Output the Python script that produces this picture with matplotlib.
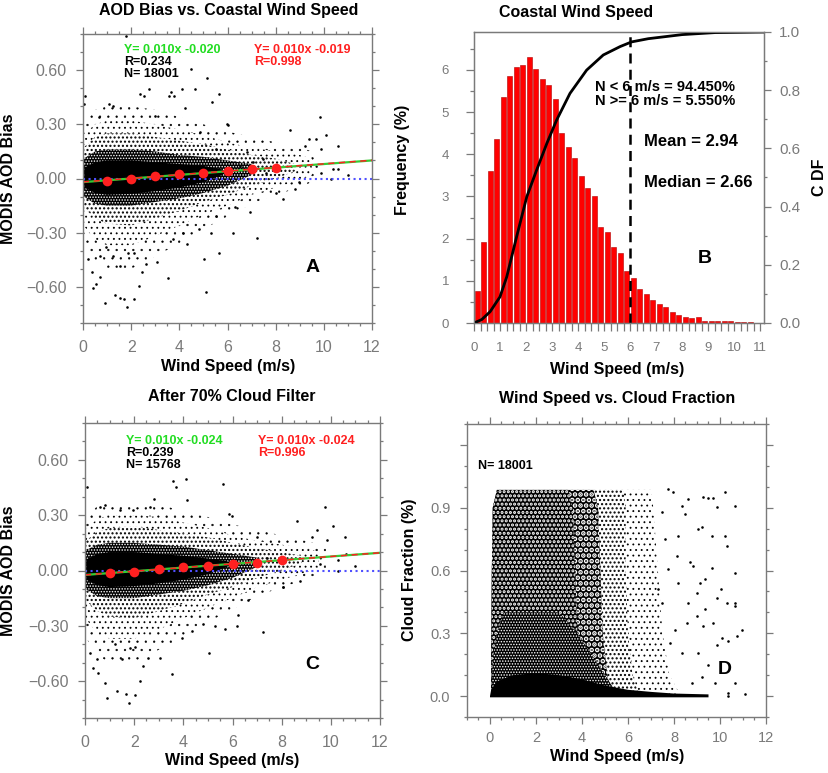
import matplotlib
matplotlib.use("Agg")
import matplotlib.pyplot as plt
from matplotlib.ticker import MultipleLocator

plt.rcParams['font.family'] = ['Liberation Sans', 'DejaVu Sans']

W, H = 829, 773

# ---------------- panel A: AOD bias vs wind speed ----------------
a_bin_x = [1, 2, 3, 4, 5, 6, 7, 8]
a_bin_y = [-0.015, -0.004, 0.013, 0.026, 0.030, 0.040, 0.050, 0.059]
fit_x = [0, 12]
a_fit_green = [-0.020, 0.100]
a_fit_red = [-0.019, 0.101]

# density contours of the point cloud (outer to inner)
a_faint_x = [0.02, 0.5, 1, 2, 3, 4, 5, 6, 7, 8, 9, 9.8]
a_faint_hi = [0.30, 0.38, 0.40, 0.40, 0.38, 0.34, 0.30, 0.26, 0.23, 0.20, 0.17, 0.14]
a_faint_lo = [-0.36, -0.46, -0.50, -0.50, -0.43, -0.36, -0.28, -0.21, -0.14, -0.09, -0.05, 0.0]
a_thin_x = [0.02, 0.5, 1, 2, 3, 4, 5, 6, 7, 8, 9, 9.5]
a_thin_hi = [0.24, 0.30, 0.32, 0.32, 0.30, 0.27, 0.24, 0.20, 0.17, 0.15, 0.13, 0.11]
a_thin_lo = [-0.26, -0.34, -0.37, -0.37, -0.32, -0.26, -0.20, -0.15, -0.09, -0.05, -0.01, 0.02]
a_med_x = [0.02, 0.5, 1, 2, 3, 4, 5, 6, 7, 8, 8.8]
a_med_hi = [0.17, 0.23, 0.25, 0.25, 0.23, 0.21, 0.19, 0.16, 0.13, 0.11, 0.08]
a_med_lo = [-0.16, -0.22, -0.25, -0.26, -0.22, -0.18, -0.13, -0.09, -0.04, 0.0, 0.04]
a_dark_x = [0.03, 0.5, 1, 2, 3, 4, 5, 6, 7]
a_dark_hi = [0.11, 0.15, 0.16, 0.16, 0.15, 0.13, 0.12, 0.10, 0.08]
a_dark_lo = [-0.10, -0.14, -0.15, -0.15, -0.13, -0.11, -0.08, -0.04, 0.02]
a_solid_x = [0.05, 0.5, 1, 2, 3, 4, 5, 5.8]
a_solid_hi = [0.06, 0.09, 0.10, 0.10, 0.09, 0.08, 0.07, 0.05]
a_solid_lo = [-0.05, -0.08, -0.09, -0.085, -0.07, -0.05, -0.02, 0.02]

# isolated points
a_pts_x = [0.1, 0.04, 1.09, 1.26, 0.65, 1.77, 2.36, 2.74, 2.52, 3.58, 3.76, 3.65, 4.13,
           4.67, 4.49, 5.16, 5.36, 5.64, 4.22, 2.99, 9.83, 8.61, 10.1, 10.6, 9.4, 9.66,
           9.2, 9.9, 10.4, 11.0, 10.3, 10.6, 9.9, 8.8, 8.97, 7.6, 7.48, 7.06, 6.5, 6.8,
           5.96, 6.03, 5.54, 4.85,
           0.22, 0.36, 0.53, 0.7, 0.43, 0.9, 1.33, 1.53, 1.7, 1.84, 2.12, 2.32, 2.46,
           1.53, 1.88, 0.7, 0.95, 1.26, 2.1, 2.61, 3.06, 3.53, 3.72, 4.33, 4.16, 4.81,
           5.03, 5.1, 5.64, 5.54, 5.3, 6.24, 6.33, 7.24, 6.93, 8.03, 8.3]
a_pts_y = [0.458, 0.41, 0.415, 0.40, 0.343, 0.79, 0.467, 0.495, 0.456, 0.458, 0.454,
           0.48, 0.495, 0.495, 0.605, 0.557, 0.425, 0.47, 0.388, 0.347, 0.342, 0.268,
           0.24, 0.181, 0.218, 0.218, 0.181, 0.162, 0.052, 0.018, -0.004, 0.055, 0.033,
           -0.059, -0.018, 0.033, 0.107, 0.089, 0.07, 0.144, 0.30, 0.295, 0.162, 0.255,
           -0.447, -0.52, -0.585, -0.548, -0.604, -0.687, -0.646, -0.659, -0.668, -0.709,
           -0.668, -0.594, -0.52, -0.484, -0.41, -0.428, -0.382, -0.428, -0.41, -0.474,
           -0.465, -0.55, -0.336, -0.36, -0.30, -0.28, -0.447, -0.631, -0.415, -0.207,
           -0.30, -0.30, -0.16, -0.33, -0.188, -0.078, -0.114]

# ---------------- panel B: wind speed histogram ----------------
b_bin_centers = [0.125 + 0.25 * i for i in range(44)]
b_freq = [0.77, 1.93, 3.60, 4.36, 5.37, 5.86, 6.06, 6.11, 6.30, 6.03, 5.78, 5.64,
          5.32, 4.50, 4.18, 3.92, 3.48, 3.21, 3.02, 2.27, 2.15, 1.81, 1.67, 1.23,
          1.06, 0.81, 0.69, 0.545, 0.46, 0.38, 0.27, 0.19, 0.135, 0.13, 0.135, 0.055,
          0.05, 0.045, 0.045, 0.04, 0.035, 0.03, 0.03, 0.0]
b_cdf_x = [0.0, 0.1, 0.3, 0.62, 1.0, 1.26, 1.64, 2.03, 2.41, 2.8, 3.18, 3.69, 4.33,
           4.97, 5.62, 6.06, 6.7, 8.0, 9.27, 11.1]
b_cdf_y = [0.0, 0.004, 0.012, 0.039, 0.09, 0.159, 0.297, 0.434, 0.526, 0.617, 0.698,
           0.789, 0.869, 0.921, 0.95, 0.966, 0.977, 0.991, 0.998, 1.0]
b_cut = 6

# ---------------- panel C: after cloud filter ----------------
c_bin_x = [1, 2, 3, 4, 5, 6, 7, 8]
c_bin_y = [-0.016, -0.009, 0.007, 0.018, 0.022, 0.035, 0.042, 0.055]
c_fit_green = [-0.024, 0.096]
c_fit_red = [-0.024, 0.096]

c_faint_x = [0.02, 0.5, 1, 2, 3, 4, 5, 6, 7, 8, 9, 9.8]
c_faint_hi = [0.28, 0.35, 0.37, 0.37, 0.36, 0.32, 0.29, 0.25, 0.22, 0.19, 0.16, 0.13]
c_faint_lo = [-0.36, -0.46, -0.50, -0.50, -0.43, -0.36, -0.28, -0.21, -0.14, -0.09, -0.05, 0.0]
c_thin_x = [0.02, 0.5, 1, 2, 3, 4, 5, 6, 7, 8, 9, 9.5]
c_thin_hi = [0.22, 0.28, 0.30, 0.30, 0.29, 0.26, 0.23, 0.19, 0.16, 0.14, 0.12, 0.10]
c_thin_lo = [-0.26, -0.34, -0.37, -0.37, -0.32, -0.26, -0.20, -0.15, -0.09, -0.05, -0.01, 0.02]
c_med_x = [0.02, 0.5, 1, 2, 3, 4, 5, 6, 7, 8, 8.8]
c_med_hi = [0.16, 0.21, 0.23, 0.24, 0.22, 0.20, 0.18, 0.15, 0.12, 0.10, 0.08]
c_med_lo = [-0.16, -0.22, -0.25, -0.26, -0.22, -0.18, -0.13, -0.09, -0.04, 0.0, 0.04]
c_dark_x = [0.03, 0.5, 1, 2, 3, 4, 5, 6, 7]
c_dark_hi = [0.11, 0.14, 0.15, 0.15, 0.14, 0.13, 0.11, 0.09, 0.07]
c_dark_lo = [-0.10, -0.14, -0.15, -0.15, -0.13, -0.11, -0.08, -0.04, 0.02]
c_solid_x = [0.05, 0.5, 1, 2, 3, 4, 5, 5.8]
c_solid_hi = [0.06, 0.09, 0.10, 0.10, 0.09, 0.08, 0.065, 0.05]
c_solid_lo = [-0.05, -0.08, -0.09, -0.085, -0.07, -0.05, -0.02, 0.02]

c_pts_x = [0.09, 0.61, 0.83, 1.42, 1.97, 2.81, 2.64, 3.57, 3.69, 4.09, 4.16, 5.6, 5.87,
           5.97, 9.76, 10.1, 8.61, 10.58, 9.42, 9.22, 9.83, 10.3, 11.0, 10.6, 10.3, 9.56,
           8.75, 8.07, 7.39, 6.98,
           0.2, 0.31, 0.54, 0.47, 0.81, 0.88, 1.32, 1.67, 1.8, 2.03, 2.24, 2.37, 1.49,
           1.83, 1.22, 2.05, 2.58, 3.05, 3.53, 3.93, 4.34, 4.81, 5.04, 5.29, 5.71, 6.2,
           6.24, 6.62, 7.25, 8.07]
c_pts_y = [0.455, 0.345, 0.355, 0.33, 0.327, 0.39, 0.345, 0.487, 0.455, 0.495, 0.382,
           0.47, 0.305, 0.295, 0.342, 0.24, 0.27, 0.182, 0.218, 0.182, 0.164, 0.055,
           0.022, 0.09, 0.0, 0.036, -0.055, -0.09, 0.07, 0.18,
           -0.445, -0.527, -0.555, -0.48, -0.61, -0.69, -0.655, -0.67, -0.718, -0.673,
           -0.60, -0.518, -0.48, -0.418, -0.40, -0.415, -0.473, -0.473, -0.56, -0.364,
           -0.327, -0.29, -0.45, -0.30, -0.318, -0.30, -0.24, -0.16, -0.333, -0.087]

# ---------------- panel D: wind speed vs cloud fraction ----------------
d_solid_x = [0.0, 0.05, 0.3, 1, 2, 3, 4, 5, 6, 7, 8, 9.5]
d_solid_top = [0.0, 0.03, 0.07, 0.10, 0.11, 0.10, 0.08, 0.05, 0.03, 0.02, 0.012, 0.008]
d_blob_y = [0.0, 0.1, 0.2, 0.3, 0.4]
d_blob_l = [0.05, 0.08, 0.15, 0.3, 0.6]
d_blob_r = [5.6, 5.0, 4.4, 3.8, 3.0]
d_band_y = [0.0, 0.1, 0.3, 0.6, 0.9, 0.985]
d_band_l = [0.05, 0.05, 0.06, 0.08, 0.12, 0.3]
d_dark_r = [4.0, 3.9, 3.8, 3.7, 3.6, 3.4]
d_mid_r = [5.3, 5.1, 4.9, 4.8, 4.7, 4.5]
d_med_r = [6.5, 6.2, 6.0, 5.9, 5.9, 5.8]
d_thin_r = [8.3, 7.8, 7.5, 7.3, 7.1, 7.0]
d_pts_x = [7.75, 7.97, 8.62, 8.48, 9.28, 9.49, 9.71, 10.22, 9.86, 10.65, 9.06, 9.23,
           9.64, 10.22, 10.29, 8.7, 8.84, 9.64, 10.65, 9.35, 9.13, 10.05, 9.86, 10.65,
           10.65, 10.29, 8.99, 8.62, 9.35, 8.99, 9.71, 9.28, 10.94, 10.73, 10.07, 9.86,
           10.36, 9.06, 8.33, 7.82, 8.04, 8.55, 9.49, 9.2, 8.77, 9.78, 10.65, 10.36,
           10.36, 11.09, 7.46, 7.32, 7.75, 8.19, 8.11, 7.6, 8.19, 8.33, 7.46]
d_pts_y = [0.99, 0.975, 0.943, 0.87, 0.95, 0.947, 0.947, 0.975, 0.903, 0.908, 0.80,
           0.807, 0.767, 0.767, 0.719, 0.639, 0.622, 0.614, 0.59, 0.558, 0.542, 0.51,
           0.47, 0.446, 0.43, 0.446, 0.494, 0.446, 0.414, 0.382, 0.35, 0.334, 0.318,
           0.286, 0.278, 0.245, 0.262, 0.205, 0.205, 0.253, 0.318, 0.35, 0.149, 0.093,
           0.061, 0.064, 0.061, 0.013, 0.0, 0.008, 0.446, 0.51, 0.606, 0.542, 0.67,
           0.75, 0.767, 0.91, 0.88]

aod_ticks = [-0.6, -0.3, 0.0, 0.3, 0.6]
aod_labels = ['\u22120.60', '\u22120.30', '0.00', '0.30', '0.60']
ws_ticks = [0, 2, 4, 6, 8, 10, 12]
cf_ticks = [0.0, 0.3, 0.6, 0.9, 1.2]
cf_labels = ['0.0', '0.3', '0.6', '0.9', '']

GRAY = '#7a7a7a'
GREEN = '#22dd22'
RED = '#ff2020'

# texture per density level: (hatch, face colour, dot colour, hatch line width)
TEX_FAINT = ('..', 'white', 'black', 0.4)
TEX_THIN = ('...', 'white', 'black', 0.6)
TEX_MED = ('....', 'white', 'black', 1.0)
TEX_MID = ('...', 'black', 'white', 2.4)
TEX_DARK = ('....', 'black', 'white', 1.5)
TEX_DENSE = ('......', 'black', 'white', 0.7)


def rect(l, t, r, b):
    return [l / W, 1 - b / H, (r - l) / W, (b - t) / H]


def ftext(fig, x, y, s, **kw):
    fig.text(x / W, 1 - y / H, s, ha='center', va='center', **kw)


def speckle(ax, kind, a, b, c, tex):
    # a textured fill that stands in for a dense point cloud
    hatch, face, dot, lw = tex
    with plt.rc_context({'hatch.color': dot, 'hatch.linewidth': lw}):
        if kind == 'x':
            ax.fill_between(a, b, c, facecolor=face, edgecolor=dot, hatch=hatch, linewidth=0)
        else:
            ax.fill_betweenx(a, b, c, facecolor=face, edgecolor=dot, hatch=hatch, linewidth=0)


def frame(ax, labelsize, top=True, right=True):
    for sp in ax.spines.values():
        sp.set_color(GRAY)
        sp.set_linewidth(1.0)
    ax.tick_params(which='both', direction='out', colors=GRAY, labelsize=labelsize,
                   top=top, right=right, width=0.9)
    ax.tick_params(which='major', length=5, pad=7)
    ax.tick_params(which='minor', length=2.5)


def bias_panel(ax, levels, solid, pts_x, pts_y, bin_x, bin_y, green, red):
    for (lx, lhi, llo), tex in zip(levels, [TEX_FAINT, TEX_THIN, TEX_MED, TEX_DENSE]):
        speckle(ax, 'x', lx, llo, lhi, tex)
    sx, shi, slo = solid
    ax.fill_between(sx, slo, shi, facecolor='black', linewidth=0)
    ax.scatter(pts_x, pts_y, s=3.5, c='black', linewidths=0)
    ax.axhline(0, color='#5050ff', linestyle=':', linewidth=1.5)
    ax.plot(fit_x, green, color='#33cc33', linewidth=1.6)
    ax.plot(fit_x, red, color=RED, linewidth=1.1, dashes=(4, 3))
    ax.plot(bin_x, bin_y, 'o', color=RED, markersize=7, markeredgewidth=0)
    ax.set_xlim(0, 12)
    ax.set_ylim(-0.8, 0.8)
    ax.set_xticks(ws_ticks)
    ax.set_yticks(aod_ticks, aod_labels)
    ax.xaxis.set_minor_locator(MultipleLocator(0.5))
    ax.yaxis.set_minor_locator(MultipleLocator(0.1))
    frame(ax, 11.5)


fig = plt.figure(figsize=(W / 100, H / 100), dpi=100)

# ---- A ----
ax_a = fig.add_axes(rect(83, 34, 372, 323))
bias_panel(ax_a,
           [(a_faint_x, a_faint_hi, a_faint_lo), (a_thin_x, a_thin_hi, a_thin_lo),
            (a_med_x, a_med_hi, a_med_lo), (a_dark_x, a_dark_hi, a_dark_lo)],
           (a_solid_x, a_solid_hi, a_solid_lo),
           a_pts_x, a_pts_y, a_bin_x, a_bin_y, a_fit_green, a_fit_red)
ax_a.text(1.7, 0.711, 'Y= 0.010x -0.020', color=GREEN, fontsize=9, weight='bold', va='center')
ax_a.text(1.7, 0.644, 'R=0.234', color='black', fontsize=9, weight='bold', va='center')
ax_a.text(1.7, 0.578, 'N= 18001', color='black', fontsize=9, weight='bold', va='center')
ax_a.text(7.1, 0.711, 'Y= 0.010x -0.019', color=RED, fontsize=9, weight='bold', va='center')
ax_a.text(7.1, 0.644, 'R=0.998', color=RED, fontsize=9, weight='bold', va='center')
ax_a.text(9.55, -0.49, 'A', fontsize=14, weight='bold', ha='center', va='center')

# ---- B ----
ax_b = fig.add_axes(rect(474, 32, 764, 323))
ax_b.bar(b_bin_centers, b_freq, width=0.2, color='#ff0000', edgecolor='#b00000',
         linewidth=0.4)
ax_b.axvline(b_cut, color='black', linestyle=(0, (4, 2.5)), linewidth=1.8)
ax_b.set_xlim(0, 11.15)
ax_b.set_ylim(0, 6.9)
ax_b.set_xticks(range(0, 12))
ax_b.set_yticks(range(0, 7))
ax_b.xaxis.set_minor_locator(MultipleLocator(0.25))
ax_b.yaxis.set_minor_locator(MultipleLocator(0.5))
frame(ax_b, 9.5, top=False, right=False)
ax_b.tick_params(axis='x', which='both', length=6, pad=8)
ax_b.tick_params(axis='y', which='major', length=6, pad=12)
ax_b.tick_params(axis='y', which='minor', length=3)
ax_b2 = ax_b.twinx()
ax_b2.plot(b_cdf_x, b_cdf_y, color='black', linewidth=2)
ax_b2.set_ylim(0, 1.0)
ax_b2.set_yticks([0, 0.2, 0.4, 0.6, 0.8, 1.0], ['0.0', '0.2', '0.4', '0.6', '0.8', '1.0'])
ax_b2.yaxis.set_minor_locator(MultipleLocator(0.1))
for sp in ax_b2.spines.values():
    sp.set_color(GRAY)
ax_b2.tick_params(which='both', direction='out', colors=GRAY, labelsize=11, width=0.9)
ax_b2.tick_params(which='major', length=5, pad=6)
ax_b2.tick_params(which='minor', length=2.5)
ax_b.text(4.65, 5.59, 'N < 6 m/s = 94.450%', fontsize=10.5, weight='bold', va='center')
ax_b.text(4.65, 5.27, 'N >= 6 m/s = 5.550%', fontsize=10.5, weight='bold', va='center')
ax_b.text(6.54, 4.31, 'Mean = 2.94', fontsize=12, weight='bold', va='center')
ax_b.text(6.54, 3.32, 'Median = 2.66', fontsize=12, weight='bold', va='center')
ax_b.text(8.88, 1.52, 'B', fontsize=14, weight='bold', ha='center', va='center')

# ---- C ----
ax_c = fig.add_axes(rect(85, 423, 380, 718))
bias_panel(ax_c,
           [(c_faint_x, c_faint_hi, c_faint_lo), (c_thin_x, c_thin_hi, c_thin_lo),
            (c_med_x, c_med_hi, c_med_lo), (c_dark_x, c_dark_hi, c_dark_lo)],
           (c_solid_x, c_solid_hi, c_solid_lo),
           c_pts_x, c_pts_y, c_bin_x, c_bin_y, c_fit_green, c_fit_red)
ax_c.text(1.67, 0.70, 'Y= 0.010x -0.024', color=GREEN, fontsize=9, weight='bold', va='center')
ax_c.text(1.67, 0.635, 'R=0.239', color='black', fontsize=9, weight='bold', va='center')
ax_c.text(1.67, 0.57, 'N= 15768', color='black', fontsize=9, weight='bold', va='center')
ax_c.text(7.04, 0.70, 'Y= 0.010x -0.024', color=RED, fontsize=9, weight='bold', va='center')
ax_c.text(7.04, 0.635, 'R=0.996', color=RED, fontsize=9, weight='bold', va='center')
ax_c.text(9.26, -0.51, 'C', fontsize=14, weight='bold', ha='center', va='center')

# ---- D ----
ax_d = fig.add_axes(rect(467, 424, 766, 717))
speckle(ax_d, 'y', d_band_y, d_band_l, d_thin_r, TEX_THIN)
speckle(ax_d, 'y', d_band_y, d_band_l, d_med_r, TEX_MED)
speckle(ax_d, 'y', d_band_y, d_band_l, d_mid_r, TEX_MID)
speckle(ax_d, 'y', d_band_y, d_band_l, d_dark_r, TEX_DARK)
speckle(ax_d, 'y', d_blob_y, d_blob_l, d_blob_r, TEX_DENSE)
ax_d.fill_between(d_solid_x, -0.006, d_solid_top, facecolor='black', linewidth=0)
ax_d.scatter(d_pts_x, d_pts_y, s=3.5, c='black', linewidths=0)
ax_d.set_xlim(-1, 12)
ax_d.set_ylim(-0.1, 1.3)
ax_d.set_xticks(ws_ticks)
ax_d.set_yticks(cf_ticks, cf_labels)
ax_d.xaxis.set_minor_locator(MultipleLocator(0.5))
ax_d.yaxis.set_minor_locator(MultipleLocator(0.1))
frame(ax_d, 10.5)
ax_d.tick_params(axis='x', which='major', pad=5)
ax_d.text(-0.52, 1.097, 'N= 18001', fontsize=9, weight='bold', va='center')
ax_d.text(10.22, 0.125, 'D', fontsize=14, weight='bold', ha='center', va='center')

# ---- titles and axis labels ----
tkw = dict(fontsize=11.5, weight='bold')
ftext(fig, 229, 10, 'AOD Bias vs. Coastal Wind Speed', **tkw)
ftext(fig, 576, 12, 'Coastal Wind Speed', **tkw)
ftext(fig, 232, 397, 'After 70% Cloud Filter', **tkw)
ftext(fig, 617, 399, 'Wind Speed vs. Cloud Fraction', **tkw)
ftext(fig, 228, 366, 'Wind Speed (m/s)', **tkw)
ftext(fig, 617, 370, 'Wind Speed (m/s)', **tkw)
ftext(fig, 232, 761, 'Wind Speed (m/s)', **tkw)
ftext(fig, 617, 756, 'Wind Speed (m/s)', **tkw)
ftext(fig, 9, 179, 'MODIS AOD Bias', rotation=90, **tkw)
ftext(fig, 9, 571, 'MODIS AOD Bias', rotation=90, **tkw)
ftext(fig, 403, 160, 'Frequency (%)', rotation=90, **tkw)
ftext(fig, 410, 570, 'Cloud Fraction (%)', rotation=90, **tkw)
ftext(fig, 820, 177, 'C DF', rotation=90, **tkw)

fig.savefig('out.png', dpi=100)
plt.close(fig)
